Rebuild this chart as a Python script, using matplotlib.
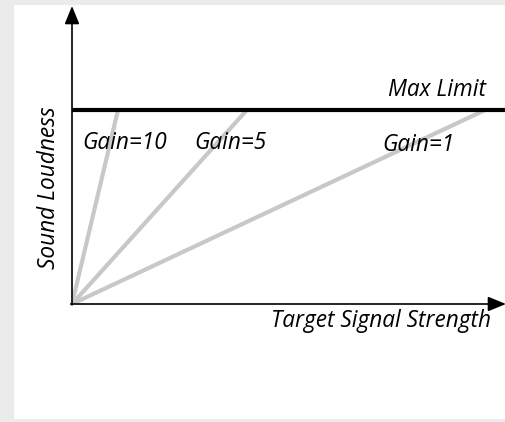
import matplotlib.pyplot as plt

# Schematic: loudness vs signal strength for a few gains, clipped at max limit.
gain_labels = ["Gain=10", "Gain=5", "Gain=1"]
gain_end_x = [0.106, 0.403, 0.952]   # signal strength where each line hits the limit
max_limit = 1.0
label_pos_x = [0.023, 0.283, 0.716]
label_pos_y = [0.80, 0.80, 0.79]

fig = plt.figure(figsize=(5.06, 4.22), dpi=100)
fig.patch.set_facecolor("#ebebeb")

# white panel behind the drawing
bg = fig.add_axes([14 / 506, 3 / 422, 492 / 506, 414 / 422], zorder=0)
bg.set_facecolor("white")
bg.set_xticks([])
bg.set_yticks([])
for s in bg.spines.values():
    s.set_visible(False)

ax = fig.add_axes([72 / 506, (422 - 304) / 422, 434 / 506, 298 / 422], zorder=1)
ax.set_facecolor("none")
ax.set_xlim(0, 1)
ax.set_ylim(0, 1.536)
for s in ax.spines.values():
    s.set_visible(False)
ax.set_xticks([])
ax.set_yticks([])

font = dict(family="Open Sans", style="italic", fontsize=16.3)

for x_end, lab, lx, ly in zip(gain_end_x, gain_labels, label_pos_x, label_pos_y):
    ax.plot([0, x_end], [0, max_limit], color="#c8c8c8", lw=3, solid_capstyle="butt", zorder=2)
    ax.text(lx, ly, lab, ha="left", va="baseline", **font)

ax.plot([0, 1], [max_limit, max_limit], color="black", lw=3, solid_capstyle="butt", zorder=3)
ax.text(0.953, 1.07, "Max Limit", ha="right", va="baseline", **font)

# axis arrows
arrow = dict(arrowstyle="-|>,head_length=1.1,head_width=0.45", color="black", lw=1.2,
             shrinkA=0, shrinkB=0)
ax.annotate("", xy=(0, 1.0), xytext=(0, -0.003), xycoords="axes fraction",
            arrowprops=arrow, annotation_clip=False)
ax.annotate("", xy=(1.0, 0), xytext=(-0.003, 0), xycoords="axes fraction",
            arrowprops=arrow, annotation_clip=False)

ax.text(0.965, -0.12, "Target Signal Strength", ha="right", va="baseline", **font)
fig.text(49 / 506, 1 - 188 / 422, "Sound Loudness", rotation=90, ha="center", va="center", **font)

fig.savefig("out.png", dpi=100, facecolor=fig.get_facecolor())
